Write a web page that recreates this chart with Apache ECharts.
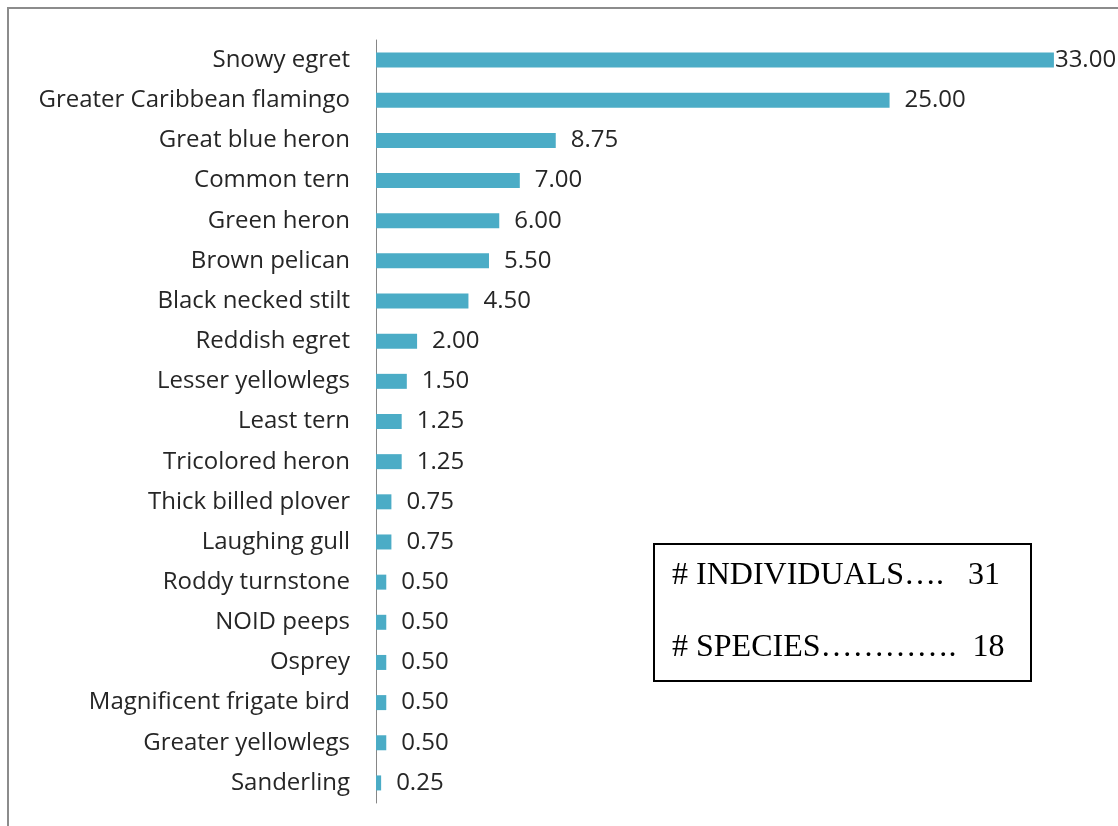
<!DOCTYPE html>
<html>
<head>
<meta charset="utf-8">
<script src="https://cdn.jsdelivr.net/npm/echarts@6/dist/echarts.min.js"></script>
<style>
  html, body { margin: 0; padding: 0; background: #fff; }
  #chart { width: 1118px; height: 826px; }
</style>
</head>
<body>
<div id="chart"></div>
<script>
// Bird species observed, average count per survey
const species = [
  'Snowy egret', 'Greater Caribbean flamingo', 'Great blue heron', 'Common tern',
  'Green heron', 'Brown pelican', 'Black necked stilt', 'Reddish egret',
  'Lesser yellowlegs', 'Least tern', 'Tricolored heron', 'Thick billed plover',
  'Laughing gull', 'Roddy turnstone', 'NOID peeps', 'Osprey',
  'Magnificent frigate bird', 'Greater yellowlegs', 'Sanderling'
];
const counts = [33, 25, 8.75, 7, 6, 5.5, 4.5, 2, 1.5, 1.25, 1.25, 0.75, 0.75, 0.5, 0.5, 0.5, 0.5, 0.5, 0.25];
const summaryLines = ['# INDIVIDUALS\u2026.   31', '# SPECIES\u2026\u2026\u2026\u2026.  18'];

const labelFont = '"Open Sans", Lato, sans-serif';
const chart = echarts.init(document.getElementById('chart'));

const barData = counts.map((v, i) => i === 0
  ? { value: v, label: { distance: 1 } }
  : v);

chart.setOption({
  animation: false,
  grid: { left: 376, right: 23, top: 40, bottom: 23 },
  xAxis: { type: 'value', min: 0, max: 35, show: false },
  yAxis: {
    type: 'category',
    data: species,
    inverse: true,
    axisLine: { lineStyle: { color: '#868686', width: 1 } },
    axisTick: { show: false },
    axisLabel: { margin: 26, color: '#262626', fontSize: 24, fontFamily: labelFont }
  },
  series: [{
    type: 'bar',
    data: barData,
    barWidth: 15,
    itemStyle: { color: '#4BACC6' },
    label: {
      show: true,
      position: 'right',
      distance: 15,
      color: '#262626',
      fontSize: 24,
      fontFamily: labelFont,
      formatter: p => p.value.toFixed(2)
    }
  }],
  graphic: [
    // outer frame
    { type: 'polyline', shape: { points: [[8, 826], [8, 8], [1118, 8]] },
      style: { stroke: '#8c8c8c', lineWidth: 2, fill: null } },
    // summary box
    { type: 'rect', shape: { x: 654, y: 544, width: 377, height: 137 },
      style: { stroke: '#000', lineWidth: 2, fill: '#fff' } },
    { type: 'text', x: 672, y: 576,
      style: { text: summaryLines[0], fontSize: 32, verticalAlign: 'middle',
               fontFamily: '"Liberation Serif", serif', fill: '#000' } },
    { type: 'text', x: 672, y: 648,
      style: { text: summaryLines[1], fontSize: 32, verticalAlign: 'middle',
               fontFamily: '"Liberation Serif", serif', fill: '#000' } }
  ]
});
</script>
</body>
</html>
